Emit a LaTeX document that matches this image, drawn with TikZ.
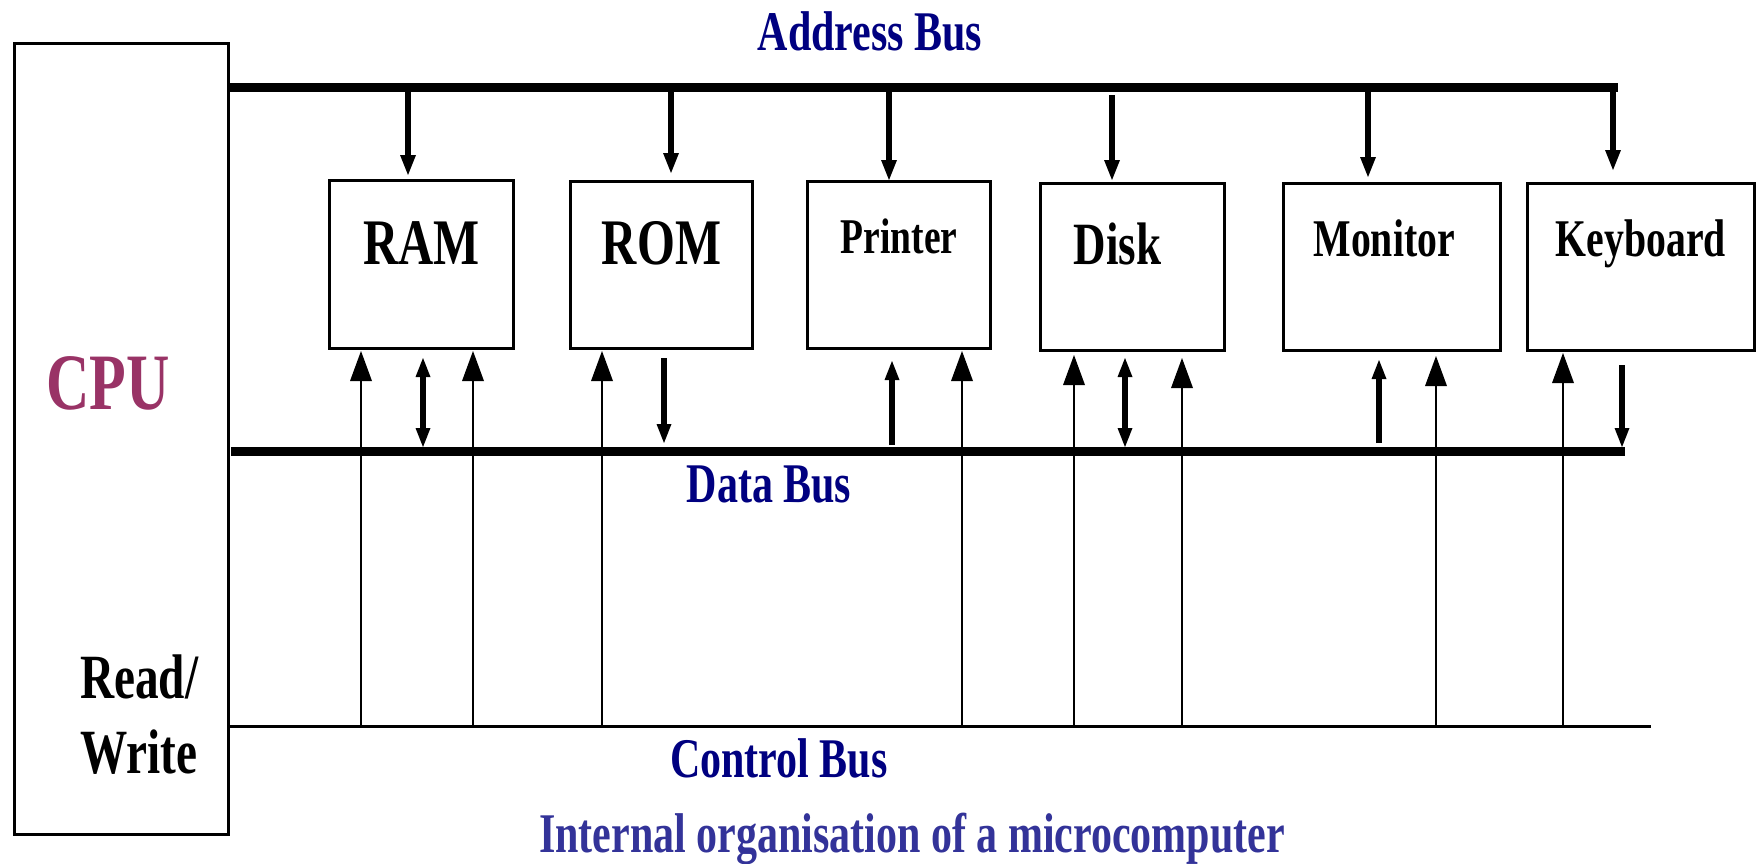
\documentclass[tikz,border=0pt]{standalone}
\usepackage{fontspec}
\setmainfont{Liberation Serif}[FakeStretch=0.75]
\usepackage{tikz}
\usetikzlibrary{arrows.meta}
\definecolor{busblue}{HTML}{000080}
\definecolor{titleblue}{HTML}{333399}
\definecolor{cpupurple}{HTML}{993366}
\newcommand{\diagfont}[2]{\fontsize{#1}{#2}\selectfont\bfseries}

\begin{document}
\begin{tikzpicture}[
  x=1pt, y=-1pt,
  every node/.style={font=\diagfont{56}{60}},
  box/.style={rectangle, draw, line width=3pt, inner sep=0pt, anchor=north west},
  lbl/.style={text=busblue, anchor=base, inner sep=0pt},
  bus/.style={line width=9pt},
  cline/.style={line width=3pt},
  abar/.style={line width=6pt, -{Triangle[length=20pt,width=16pt,line width=0pt]}},
  dbar/.style={line width=5.5pt, -{Triangle[length=19pt,width=15pt,line width=0pt]}},
  dbarboth/.style={line width=5.5pt, {Triangle[length=19pt,width=15pt,line width=0pt]}-{Triangle[length=19pt,width=15pt,line width=0pt]}},
  ctrl/.style={line width=2.5pt, -{Triangle[length=30pt,width=22pt,line width=0pt]}}
]
\useasboundingbox (0,0) rectangle (1756,863);

% Nodes
\node[box, minimum width=214pt, text height=366pt, text depth=425pt,
      text width=150pt, inner xsep=32pt, align=left,
      text=cpupurple, font=\diagfont{80}{84}] (cpu) at (13,42) {CPU};
\node[anchor=base west, align=left, inner sep=0pt, font=\diagfont{63}{75}] (rw) at (80,773) {Read/\\Write};

\node[box, minimum width=184pt, text height=84pt, text depth=84pt, font=\diagfont{65}{70}] (ram) at (328,179) {RAM};
\node[box, minimum width=182pt, text height=83pt, text depth=84pt, font=\diagfont{65}{70}] (rom) at (569,180) {ROM};
\node[box, minimum width=183pt, text height=72pt, text depth=95pt, font=\diagfont{50}{54}] (printer) at (806,180) {Printer};
\node[box, minimum width=184pt, text height=81pt, text depth=86pt, text width=118pt, inner xsep=33pt,
      align=left, font=\diagfont{60}{64}] (disk) at (1039,182) {Disk};
\node[box, minimum width=217pt, text height=73pt, text depth=94pt, text width=157pt, inner xsep=30pt,
      align=left, font=\diagfont{53}{57}] (monitor) at (1282,182) {Monitor};
\node[box, minimum width=227pt, text height=73pt, text depth=94pt, font=\diagfont{53}{57}] (keyboard) at (1526,182) {Keyboard};

\node[lbl] (abuslbl) at (870,50) {Address Bus};
\node[lbl] (dbuslbl) at (769,502) {Data Bus};
\node[lbl] (cbuslbl) at (779,777) {Control Bus};
\node[lbl, text=titleblue] (title) at (912,852) {Internal organisation of a microcomputer};

% Buses
\coordinate (abusL) at (227,87);
\coordinate (abusR) at (1618,87);
\coordinate (dbusL) at (231,451);
\coordinate (dbusR) at (1625,451);
\coordinate (cbusL) at (227,726);
\coordinate (cbusR) at (1651,726);
\draw[bus] (abusL) -- (abusR);
\draw[bus] (dbusL) -- (dbusR);
\draw[cline] (cbusL) -- (cbusR);

% Address bus arrows
\foreach \b/\dx/\g in {ram/80/4, rom/102/7, printer/83/0, monitor/86/5, keyboard/87/12}
  \draw[abar, shorten >=\g pt] ([xshift=\dx pt]\b.north west |- abusL) -- ([xshift=\dx pt]\b.north west);
\draw[abar, shorten <=8pt, shorten >=2pt] ([xshift=73pt]disk.north west |- abusL) -- ([xshift=73pt]disk.north west);

% Data bus arrows
\draw[dbarboth, shorten <=8pt, shorten >=4pt] ([xshift=95pt]ram.south west) -- ([xshift=95pt]ram.south west |- dbusL);
\draw[dbar, shorten <=8pt, shorten >=8pt] ([xshift=95pt]rom.south west) -- ([xshift=95pt]rom.south west |- dbusL);
\draw[dbar, shorten <=6pt, shorten >=11pt] ([xshift=86pt]printer.south west |- dbusL) -- ([xshift=86pt]printer.south west);
\draw[dbarboth, shorten <=6pt, shorten >=4pt] ([xshift=86pt]disk.south west) -- ([xshift=86pt]disk.south west |- dbusL);
\draw[dbar, shorten <=8pt, shorten >=8pt] ([xshift=97pt]monitor.south west |- dbusL) -- ([xshift=97pt]monitor.south west);
\draw[dbar, shorten <=13pt, shorten >=4pt] ([xshift=96pt]keyboard.south west) -- ([xshift=96pt]keyboard.south west |- dbusL);

% Control bus arrows
\foreach \b/\dx/\g in {ram/33/1, ram/145/1, rom/33/1, printer/156/1, disk/35/3, disk/143/6, monitor/154/4, keyboard/37/1}
  \draw[ctrl, shorten >=\g pt] ([xshift=\dx pt]\b.south west |- cbusL) -- ([xshift=\dx pt]\b.south west);

\end{tikzpicture}
\end{document}
